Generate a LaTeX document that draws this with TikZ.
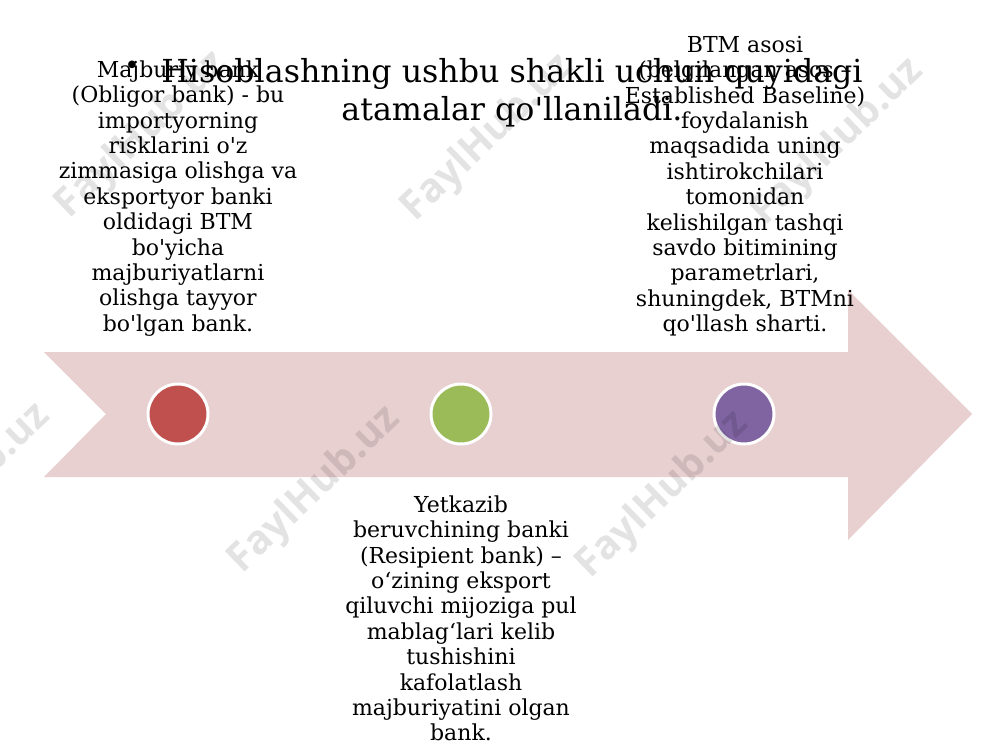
\documentclass[tikz,border=0pt]{standalone}
\usepackage{fontspec}
\setmainfont{DejaVu Serif}[Ligatures=TeXOff]
\newfontfamily\wmfont{Open Sans}
\definecolor{arrowpink}{RGB}{232,207,208}
\definecolor{dotred}{RGB}{192,80,77}
\definecolor{dotgreen}{RGB}{155,187,89}
\definecolor{dotpurple}{RGB}{128,100,162}
\begin{document}
\begin{tikzpicture}[x=1pt,y=-1pt,
  body/.style={font=\fontsize{22}{25.4}\selectfont, align=center, inner sep=0pt, anchor=north},
  titletext/.style={font=\fontsize{31.7}{38}\selectfont, align=center, inner sep=0pt, anchor=north},
  dot/.style={circle, draw=white, line width=3pt, minimum size=60pt, inner sep=0pt},
  wm/.style={font=\wmfont\bfseries\fontsize{40}{40}\selectfont, text=black, opacity=0.11, rotate=44, inner sep=0pt}]
\useasboundingbox (0,0) rectangle (1000,750);
\fill[white] (0,0) rectangle (1000,750);
% big arrow
\fill[arrowpink] (44,352) -- (848,352) -- (848,290) -- (972,414) -- (848,540) -- (848,477) -- (44,477) -- (106,414) -- cycle;
% dots
\node[dot, fill=dotred] (d1) at (178,414) {};
\node[dot, fill=dotgreen] (d2) at (461,414) {};
\node[dot, fill=dotpurple] (d3) at (744,414) {};
% watermarks
\foreach \cx/\cy [count=\i] in {142/135, 488/138, 838/142, -35/487, 315/490, 663/495}
  \node[wm] (wm\i) at (\cx,\cy) {FaylHub.uz};
% title
\node[font=\fontsize{26}{26}\selectfont, inner sep=0pt] (bullet) at (132,68) {•};
\node[titletext] (title) at (512,58) {Hisoblashning ushbu shakli uchun quyidagi\\atamalar qo'llaniladi.};
% text blocks
\node[body] (t1) at (178,60.3) {Majburiy bank\\(Obligor bank) - bu\\importyorning\\risklarini o'z\\zimmasiga olishga va\\eksportyor banki\\oldidagi BTM\\bo'yicha\\majburiyatlarni\\olishga tayyor\\bo'lgan bank.};
\node[body] (t2) at (461,495.3) {Yetkazib\\beruvchining banki\\(Resipient bank) –\\o‘zining eksport\\qiluvchi mijoziga pul\\mablag‘lari kelib\\tushishini\\kafolatlash\\majburiyatini olgan\\bank.};
\node[body] (t3) at (745,36) {BTM asosi\\(belgilangan asos –\\Established Baseline)\\foydalanish\\maqsadida uning\\ishtirokchilari\\tomonidan\\kelishilgan tashqi\\savdo bitimining\\parametrlari,\\shuningdek, BTMni\\qo'llash sharti.};
\end{tikzpicture}
\end{document}
